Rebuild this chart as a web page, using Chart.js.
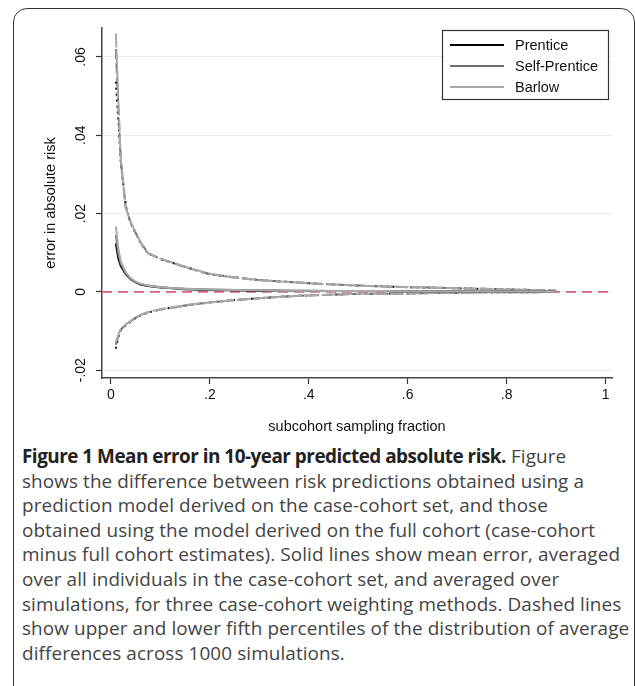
<!DOCTYPE html>
<html>
<head>
<meta charset="utf-8">
<script src="https://cdn.jsdelivr.net/npm/chart.js@4.4.1/dist/chart.umd.min.js"></script>
<style>
  body { margin: 0; background: #fff; }
  #wrap { position: relative; width: 635px; height: 686px; overflow: hidden; }
  #frame { position: absolute; left: 13px; top: 8px; width: 622px; height: 700px;
           border: 1.5px solid #333; border-radius: 14px; box-sizing: border-box; }
  #chartBox { position: absolute; left: 0; top: 0; width: 635px; height: 440px; }
  #caption { position: absolute; left: 22px; top: 444px; width: 612px;
             font-family: "Open Sans", sans-serif; font-size: 18.9px; line-height: 24.6px;
             color: #444; white-space: nowrap; letter-spacing: 0.1px; }
  #caption b { color: #222; letter-spacing: -0.5px; }
</style>
</head>
<body>
<div id="wrap">
  <div id="frame"></div>
  <div id="chartBox"><canvas id="errChart" width="635" height="440"></canvas></div>
  <div id="caption">
    <b>Figure 1 Mean error in 10-year predicted absolute risk.</b> Figure<br>
    shows the difference between risk predictions obtained using a<br>
    prediction model derived on the case-cohort set, and those<br>
    obtained using the model derived on the full cohort (case-cohort<br>
    minus full cohort estimates). Solid lines show mean error, averaged<br>
    over all individuals in the case-cohort set, and averaged over<br>
    simulations, for three case-cohort weighting methods. Dashed lines<br>
    show upper and lower fifth percentiles of the distribution of average<br>
    differences across 1000 simulations.
  </div>
</div>
<script>
// subcohort sampling fractions
var fractions = [0.01, 0.015, 0.02, 0.03, 0.04, 0.05, 0.06, 0.075, 0.1, 0.125, 0.15, 0.2, 0.25,
                 0.3, 0.35, 0.4, 0.45, 0.5, 0.55, 0.6, 0.65, 0.7, 0.75, 0.8, 0.85, 0.9];

// mean error
var meanPrentice = [0.0124, 0.0085, 0.0066, 0.0045, 0.0032, 0.0024, 0.0019, 0.0015, 0.0011, 0.0009, 0.0007, 0.0005, 0.0004,
                    0.0003, 0.0003, 0.0002, 0.0002, 0.0002, 0.0002, 0.0001, 0.0001, 0.0001, 0.0001, 0.0001, 0.0000, 0.0000];
var meanSelf     = [0.0145, 0.0098, 0.0072, 0.0048, 0.0034, 0.0025, 0.0020, 0.0016, 0.0012, 0.0009, 0.0008, 0.0006, 0.0005,
                    0.0004, 0.0003, 0.0003, 0.0002, 0.0002, 0.0002, 0.0001, 0.0001, 0.0001, 0.0001, 0.0001, 0.0000, 0.0000];
var meanBarlow   = [0.0167, 0.0110, 0.0078, 0.0050, 0.0035, 0.0026, 0.0021, 0.0016, 0.0012, 0.0010, 0.0008, 0.0006, 0.0005,
                    0.0004, 0.0003, 0.0003, 0.0002, 0.0002, 0.0002, 0.0001, 0.0001, 0.0001, 0.0001, 0.0001, 0.0001, 0.0000];

// upper percentile
var upperPrentice = [0.0537, 0.0440, 0.0330, 0.0220, 0.0175, 0.0150, 0.0125, 0.0098, 0.0084, 0.0074, 0.0064, 0.0045, 0.0037,
                     0.0030, 0.0026, 0.0022, 0.0019, 0.0016, 0.0014, 0.0012, 0.0011, 0.0009, 0.0008, 0.0006, 0.0005, 0.0003];
var upperSelf     = [0.0620, 0.0470, 0.0335, 0.0215, 0.0177, 0.0151, 0.0126, 0.0099, 0.0084, 0.0074, 0.0063, 0.0045, 0.0037,
                     0.0030, 0.0026, 0.0022, 0.0019, 0.0016, 0.0014, 0.0012, 0.0011, 0.0009, 0.0008, 0.0006, 0.0005, 0.0003];
var upperBarlow   = [0.0660, 0.0490, 0.0340, 0.0215, 0.0178, 0.0152, 0.0127, 0.0099, 0.0085, 0.0075, 0.0064, 0.0046, 0.0037,
                     0.0030, 0.0026, 0.0022, 0.0019, 0.0016, 0.0014, 0.0012, 0.0011, 0.0009, 0.0008, 0.0006, 0.0005, 0.0003];

// lower percentile
var lowerPrentice = [-0.0145, -0.0115, -0.0098, -0.0085, -0.0076, -0.0067, -0.0060, -0.0053, -0.0045, -0.0040, -0.0035, -0.0027, -0.0021,
                     -0.0016, -0.0012, -0.0009, -0.0007, -0.0005, -0.0005, -0.0004, -0.0003, -0.0002, -0.0001, -0.0001, -0.0001, 0.0000];
var lowerSelf     = [-0.0135, -0.0112, -0.0096, -0.0084, -0.0075, -0.0066, -0.0059, -0.0052, -0.0045, -0.0040, -0.0035, -0.0027, -0.0021,
                     -0.0016, -0.0012, -0.0009, -0.0007, -0.0005, -0.0005, -0.0004, -0.0003, -0.0002, -0.0001, -0.0001, -0.0001, 0.0000];
var lowerBarlow   = [-0.0128, -0.0110, -0.0095, -0.0083, -0.0074, -0.0065, -0.0059, -0.0052, -0.0044, -0.0039, -0.0034, -0.0027, -0.0021,
                     -0.0016, -0.0012, -0.0009, -0.0007, -0.0005, -0.0005, -0.0004, -0.0003, -0.0002, -0.0001, -0.0001, -0.0001, 0.0000];

var xTicks = [0, 0.2, 0.4, 0.6, 0.8, 1];
var yTicks = [-0.02, 0, 0.02, 0.04, 0.06];
var methods = ['Prentice', 'Self-Prentice', 'Barlow'];

function pts(arr) {
    return arr.map(function (v, i) { return { x: fractions[i], y: v }; });
}

function fmt(v) {
    if (Math.abs(v) < 1e-9) return '0';
    var s = String(Math.round(v * 100) / 100);
    return s.replace('0.', '.');
}

var colPrentice = '#000000';
var colSelf = '#707070';
var colBarlow = '#a9a9a9';
var axisFont = '"Liberation Sans", Arial, sans-serif';

function line(label, data, color, dash, order) {
    return {
        label: label,
        data: pts(data),
        borderColor: color,
        backgroundColor: color,
        borderWidth: 2,
        borderDash: dash,
        pointRadius: 0,
        fill: false,
        tension: 0,
        order: order
    };
}

// zero reference line and legend box
var extras = {
    id: 'extras',
    beforeDatasetsDraw: function (chart) {
        var c = chart.ctx, a = chart.chartArea;
        var y0 = chart.scales.y.getPixelForValue(0);
        c.save();
        c.strokeStyle = '#d5607c';
        c.lineWidth = 1.6;
        c.setLineDash([10, 6]);
        c.beginPath();
        c.moveTo(a.left, y0);
        c.lineTo(a.right, y0);
        c.stroke();
        c.restore();
    },
    afterDraw: function (chart) {
        var c = chart.ctx;
        var bx = 442, by = 30, bw = 166, bh = 69;
        c.save();
        c.fillStyle = '#fff';
        c.fillRect(bx, by, bw, bh);
        c.strokeStyle = '#333';
        c.lineWidth = 1.2;
        c.strokeRect(bx + 0.5, by + 0.5, bw, bh);
        var cols = [colPrentice, colSelf, colBarlow];
        c.font = '14.5px ' + axisFont;
        c.textBaseline = 'middle';
        c.fillStyle = '#111';
        for (var i = 0; i < methods.length; i++) {
            var yy = by + 15 + i * 21;
            c.strokeStyle = cols[i];
            c.lineWidth = 2.2;
            c.beginPath();
            c.moveTo(bx + 8, yy);
            c.lineTo(bx + 62, yy);
            c.stroke();
            c.fillText(methods[i], bx + 73, yy + 1);
        }
        c.restore();
    }
};

var ctx = document.getElementById('errChart');
var errChart = new Chart(ctx, {
    type: 'line',
    data: {
        datasets: [
            line('Barlow', meanBarlow, colBarlow, [], 0),
            line('Self-Prentice', meanSelf, colSelf, [], 1),
            line('Prentice', meanPrentice, colPrentice, [], 2),
            line('Barlow upper', upperBarlow, colBarlow, [14, 3], 3),
            line('Self-Prentice upper', upperSelf, colSelf, [10, 4], 4),
            line('Prentice upper', upperPrentice, colPrentice, [2, 4], 5),
            line('Barlow lower', lowerBarlow, colBarlow, [14, 3], 3),
            line('Self-Prentice lower', lowerSelf, colSelf, [10, 4], 4),
            line('Prentice lower', lowerPrentice, colPrentice, [2, 4], 5)
        ]
    },
    options: {
        responsive: false,
        animation: false,
        layout: { padding: { left: 30, top: 28, right: 23, bottom: 0 } },
        plugins: {
            legend: { display: false },
            tooltip: { enabled: false }
        },
        scales: {
            x: {
                type: 'linear',
                min: -0.018,
                max: 1.013,
                afterBuildTicks: function (scale) {
                    scale.ticks = xTicks.map(function (v) { return { value: v }; });
                },
                afterFit: function (scale) { scale.height = 62; },
                grid: { drawOnChartArea: false, drawTicks: true, tickLength: 6, tickColor: '#333', tickWidth: 1.2 },
                border: { color: '#444', width: 1.5 },
                ticks: {
                    callback: fmt,
                    color: '#111',
                    padding: 3,
                    maxRotation: 0,
                    font: { family: axisFont, size: 14 }
                },
                title: {
                    display: true,
                    text: 'subcohort sampling fraction',
                    color: '#111',
                    padding: { top: 3 },
                    font: { family: axisFont, size: 14.5 }
                }
            },
            y: {
                min: -0.022,
                max: 0.0674,
                afterBuildTicks: function (scale) {
                    scale.ticks = yTicks.map(function (v) { return { value: v }; });
                },
                afterFit: function (scale) { scale.width = 72; },
                grid: { color: '#e4eef0', lineWidth: 1, drawTicks: true, tickLength: 6, tickColor: '#333', tickWidth: 1.2 },
                border: { color: '#444', width: 1.5 },
                ticks: {
                    callback: fmt,
                    color: '#111',
                    padding: 3,
                    minRotation: 90,
                    maxRotation: 90,
                    crossAlign: 'center',
                    font: { family: axisFont, size: 14 }
                },
                title: {
                    display: true,
                    text: 'error in absolute risk',
                    color: '#111',
                    padding: { top: 12 },
                    font: { family: axisFont, size: 14.5 }
                }
            }
        }
    },
    plugins: [extras]
});
</script>
</body>
</html>
